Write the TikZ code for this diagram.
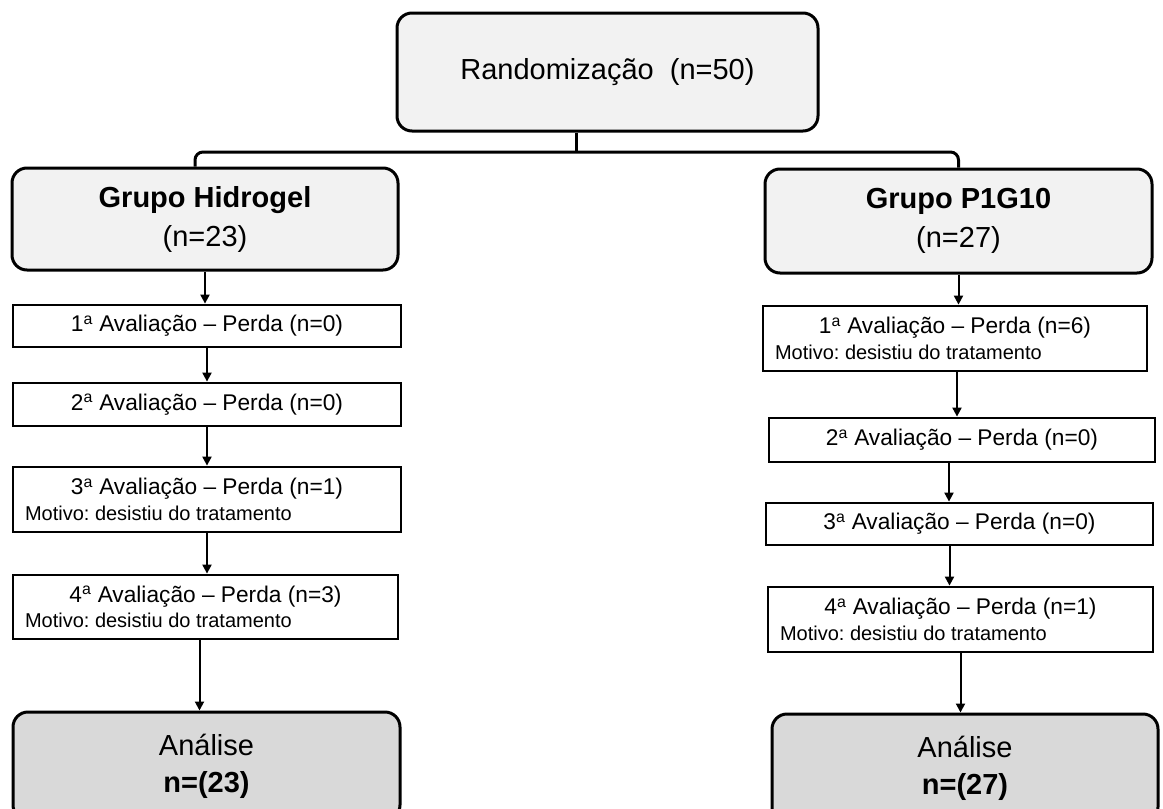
\documentclass[tikz,border=0pt]{standalone}
\usepackage{fontspec}
\setmainfont{Liberation Sans}
\usepackage{tikz}
\usetikzlibrary{arrows.meta,positioning}
\frenchspacing
\definecolor{lightbox}{HTML}{F2F2F2}
\definecolor{darkbox}{HTML}{D9D9D9}
\newcommand{\aval}[2]{#1\textsuperscript{a} Avaliação -- Perda (n=#2)}
\newcommand{\motivo}{\fontsize{20}{25.5}\selectfont Motivo: desistiu do tratamento}
\tikzset{
	groupbox/.style={
		rectangle,
		rounded corners=15pt,
		draw,
		line width=3pt,
		fill=lightbox,
		inner sep=0pt,
		align=center,
		font=\fontsize{29}{39}\selectfont
	},
	resultbox/.style={
		groupbox,
		fill=darkbox,
		font=\fontsize{29}{37}\selectfont
	},
	stagebox/.style={
		rectangle,
		draw,
		line width=2.8pt,
		fill=white,
		inner sep=0pt,
		font=\fontsize{22.7}{25.5}\selectfont
	},
	reasonbox/.style={
		stagebox,
		inner xsep=12pt,
		align=left,
		execute at begin node={\spaceskip=0pt\xspaceskip=0pt\relax}
	},
	post/.style={
		->,
		line width=2pt
	}
}

\begin{document}
\begin{tikzpicture}[x=1pt,y=-1pt,>={Triangle[length=9pt,width=9pt]}]
		\clip (0,0) rectangle (1163,809);
		\useasboundingbox (0,0) rectangle (1163,809);
		\node [groupbox,minimum width=421pt,minimum height=118pt] (rand) at (607.5,72) {Randomização\ \ (n=50)};
		% left arm
		\node [groupbox,minimum width=386pt,minimum height=102pt] (hid) at (205,219) {\textbf{Grupo Hidrogel}\\(n=23)};
		\node [stagebox,minimum width=388pt,minimum height=42pt] (h1) at (207,326) {\aval{1}{0}};
		\node [stagebox,minimum width=388pt,minimum height=43pt] (h2) at (207,404.5) {\aval{2}{0}};
		\node [reasonbox,text width=364pt,minimum height=65pt] (h3) at (207,499.5) {\makebox[\linewidth]{\aval{3}{1}}\\\motivo};
		\node [reasonbox,text width=361pt,minimum height=64pt] (h4) at (205.5,607) {\makebox[\linewidth]{\aval{4}{3}}\\\motivo};
		\node [resultbox,minimum width=387pt,minimum height=108pt] (ha) at (206.5,766) {Análise\\\textbf{n=(23)}};
		% right arm
		\node [groupbox,minimum width=387pt,minimum height=104pt] (pg) at (958.5,221) {\textbf{Grupo P1G10}\\(n=27)};
		\node [reasonbox,text width=360pt,minimum height=65pt] (p1) at (955,338.5) {\makebox[\linewidth]{\aval{1}{6}}\\\motivo};
		\node [stagebox,minimum width=386pt,minimum height=44pt] (p2) at (962,440) {\aval{2}{0}};
		\node [stagebox,minimum width=387pt,minimum height=42pt] (p3) at (959.5,524) {\aval{3}{0}};
		\node [reasonbox,text width=361pt,minimum height=65pt] (p4) at (960.5,619.5) {\makebox[\linewidth]{\aval{4}{1}}\\\motivo};
		\node [resultbox,minimum width=386pt,minimum height=108pt] (pa) at (965,768) {Análise\\\textbf{n=(27)}};
		% split
		\coordinate (split) at (576,152);
		\draw [line width=3pt] (rand.south -| split) -- (split);
		\draw [line width=3pt,rounded corners=8pt] ([xshift=-10pt]hid.north) |- (split) -| (pg.north);
		% arrows
		\draw [post] (hid.south) -- (hid.south |- h1.north);
		\draw [post] (h1.south) -- (h1.south |- h2.north);
		\draw [post] (h2.south) -- (h2.south |- h3.north);
		\draw [post] (h3.south) -- (h3.south |- h4.north);
		\draw [post] ([xshift=-6pt]h4.south) -- ([xshift=-6pt]h4.south |- ha.north);
		\draw [post] (pg.south) -- (pg.south |- p1.north);
		\draw [post] ([xshift=2pt]p1.south) -- ([xshift=2pt]p1.south |- p2.north);
		\draw [post] ([xshift=-13pt]p2.south) -- ([xshift=-13pt]p2.south |- p3.north);
		\draw [post] ([xshift=-10pt]p3.south) -- ([xshift=-10pt]p3.south |- p4.north);
		\draw [post] (p4.south) -- (p4.south |- pa.north);
\end{tikzpicture}
\end{document}
